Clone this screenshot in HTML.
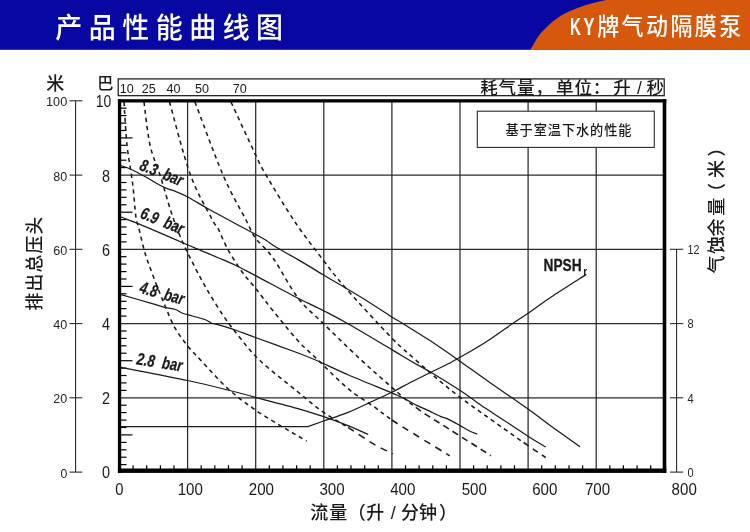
<!DOCTYPE html>
<html lang="zh-CN">
<head>
<meta charset="utf-8">
<title>产品性能曲线图</title>
<style>
html,body{margin:0;padding:0;background:#fff;}
body{width:750px;height:532px;overflow:hidden;}
svg{display:block;}
text{font-family:"Liberation Sans","Noto Sans CJK SC",sans-serif;fill:#1a1a1a;}
.cjk{font-family:"Liberation Sans","Noto Sans CJK SC",sans-serif;}
.grid line{stroke:#2a2a2a;stroke-width:1.25;}
.curve path{fill:none;stroke:#1a1a1a;stroke-width:1.25;}
.dash path{fill:none;stroke:#1a1a1a;stroke-width:1.55;stroke-dasharray:4.2 3.8;}
.tick line{stroke:#000;stroke-width:1.2;}
.ax line{stroke:#222;stroke-width:1.05;}
</style>
</head>
<body>
<svg width="750" height="532" viewBox="0 0 750 532" role="img" aria-label="产品性能曲线图">
<rect x="0" y="0" width="750" height="532" fill="#ffffff"/>
<g id="header">
<rect x="0" y="0" width="750" height="49.8" fill="#0707a2"/>
<path d="M530.3,50 L537,38.2 Q540.6,32.8 545.4,28.3 Q550.6,22.8 556.7,18.4 Q562.6,14.4 569.5,11.3 Q576.2,8.2 583.6,5.7 Q591,3.2 599.2,1.4 L606.5,0 L750,0 L750,50 Z" fill="#d6580c"/>
<text transform="translate(55.3,37.7) scale(1,1.07)" font-size="27" font-weight="500" style="fill:#fff" textLength="227.8" lengthAdjust="spacing">产品性能曲线图</text>
<text x="570.1" y="35.1" font-size="23.6" font-weight="bold" style="fill:#fff"><tspan textLength="10.9" lengthAdjust="spacingAndGlyphs">K</tspan><tspan x="583.4" textLength="11" lengthAdjust="spacingAndGlyphs">Y</tspan></text>
<text transform="translate(597.2,35.2) scale(1,1.07)" font-size="22" font-weight="500" style="fill:#fff" textLength="144" lengthAdjust="spacing">牌气动隔膜泵</text>
</g>
<g id="strip">
<rect x="118.2" y="78.9" width="546" height="16.8" fill="#fff" stroke="#111" stroke-width="1.2"/>
<text x="126.7" y="93.2" font-size="12.5" text-anchor="middle" textLength="14" lengthAdjust="spacingAndGlyphs">10</text>
<text x="148.7" y="93.2" font-size="12.5" text-anchor="middle" textLength="14" lengthAdjust="spacingAndGlyphs">25</text>
<text x="173.4" y="93.2" font-size="12.5" text-anchor="middle" textLength="14" lengthAdjust="spacingAndGlyphs">40</text>
<text x="202" y="93.2" font-size="12.5" text-anchor="middle" textLength="14" lengthAdjust="spacingAndGlyphs">50</text>
<text x="239.7" y="93.2" font-size="12.5" text-anchor="middle" textLength="14" lengthAdjust="spacingAndGlyphs">70</text>
<text x="480.2 498.5 517 535.3 556 574.4 592.7 613.3 631.5 636.9 642 646.5" y="94.3" font-size="17.5" font-weight="500">耗气量，单位：升 / 秒</text>
</g>
<g class="grid">
<line x1="187.6" y1="100.8" x2="187.6" y2="472.05"/>
<line x1="255.7" y1="100.8" x2="255.7" y2="472.05"/>
<line x1="323.8" y1="100.8" x2="323.8" y2="472.05"/>
<line x1="391.9" y1="100.8" x2="391.9" y2="472.05"/>
<line x1="460.0" y1="100.8" x2="460.0" y2="472.05"/>
<line x1="528.1" y1="100.8" x2="528.1" y2="472.05"/>
<line x1="596.2" y1="100.8" x2="596.2" y2="472.05"/>
<line x1="119.5" y1="175.1" x2="664.3" y2="175.1"/>
<line x1="119.5" y1="249.3" x2="664.3" y2="249.3"/>
<line x1="119.5" y1="323.6" x2="664.3" y2="323.6"/>
<line x1="119.5" y1="397.8" x2="664.3" y2="397.8"/>
</g>
<g class="tick">
<line x1="120" y1="108.2" x2="126.5" y2="108.2"/>
<line x1="120" y1="115.6" x2="126.5" y2="115.6"/>
<line x1="120" y1="123.1" x2="126.5" y2="123.1"/>
<line x1="120" y1="130.5" x2="126.5" y2="130.5"/>
<line x1="120" y1="137.9" x2="132.5" y2="137.9"/>
<line x1="120" y1="145.3" x2="126.5" y2="145.3"/>
<line x1="120" y1="152.8" x2="126.5" y2="152.8"/>
<line x1="120" y1="160.2" x2="126.5" y2="160.2"/>
<line x1="120" y1="167.6" x2="126.5" y2="167.6"/>
<line x1="120" y1="182.5" x2="126.5" y2="182.5"/>
<line x1="120" y1="189.9" x2="126.5" y2="189.9"/>
<line x1="120" y1="197.3" x2="126.5" y2="197.3"/>
<line x1="120" y1="204.8" x2="126.5" y2="204.8"/>
<line x1="120" y1="212.2" x2="132.5" y2="212.2"/>
<line x1="120" y1="219.6" x2="126.5" y2="219.6"/>
<line x1="120" y1="227.0" x2="126.5" y2="227.0"/>
<line x1="120" y1="234.4" x2="126.5" y2="234.4"/>
<line x1="120" y1="241.9" x2="126.5" y2="241.9"/>
<line x1="120" y1="256.7" x2="126.5" y2="256.7"/>
<line x1="120" y1="264.1" x2="126.5" y2="264.1"/>
<line x1="120" y1="271.6" x2="126.5" y2="271.6"/>
<line x1="120" y1="279.0" x2="126.5" y2="279.0"/>
<line x1="120" y1="286.4" x2="132.5" y2="286.4"/>
<line x1="120" y1="293.8" x2="126.5" y2="293.8"/>
<line x1="120" y1="301.3" x2="126.5" y2="301.3"/>
<line x1="120" y1="308.7" x2="126.5" y2="308.7"/>
<line x1="120" y1="316.1" x2="126.5" y2="316.1"/>
<line x1="120" y1="331.0" x2="126.5" y2="331.0"/>
<line x1="120" y1="338.4" x2="126.5" y2="338.4"/>
<line x1="120" y1="345.8" x2="126.5" y2="345.8"/>
<line x1="120" y1="353.2" x2="126.5" y2="353.2"/>
<line x1="120" y1="360.7" x2="132.5" y2="360.7"/>
<line x1="120" y1="368.1" x2="126.5" y2="368.1"/>
<line x1="120" y1="375.5" x2="126.5" y2="375.5"/>
<line x1="120" y1="382.9" x2="126.5" y2="382.9"/>
<line x1="120" y1="390.4" x2="126.5" y2="390.4"/>
<line x1="120" y1="405.2" x2="126.5" y2="405.2"/>
<line x1="120" y1="412.6" x2="126.5" y2="412.6"/>
<line x1="120" y1="420.1" x2="126.5" y2="420.1"/>
<line x1="120" y1="427.5" x2="126.5" y2="427.5"/>
<line x1="120" y1="434.9" x2="132.5" y2="434.9"/>
<line x1="120" y1="442.4" x2="126.5" y2="442.4"/>
<line x1="120" y1="449.8" x2="126.5" y2="449.8"/>
<line x1="120" y1="457.2" x2="126.5" y2="457.2"/>
<line x1="120" y1="464.6" x2="126.5" y2="464.6"/>
<line x1="133.1" y1="465.2" x2="133.1" y2="469"/>
<line x1="146.7" y1="465.2" x2="146.7" y2="469"/>
<line x1="160.4" y1="465.2" x2="160.4" y2="469"/>
<line x1="174.0" y1="465.2" x2="174.0" y2="469"/>
<line x1="201.2" y1="465.2" x2="201.2" y2="469"/>
<line x1="214.8" y1="465.2" x2="214.8" y2="469"/>
<line x1="228.5" y1="465.2" x2="228.5" y2="469"/>
<line x1="242.1" y1="465.2" x2="242.1" y2="469"/>
<line x1="269.3" y1="465.2" x2="269.3" y2="469"/>
<line x1="282.9" y1="465.2" x2="282.9" y2="469"/>
<line x1="296.6" y1="465.2" x2="296.6" y2="469"/>
<line x1="310.2" y1="465.2" x2="310.2" y2="469"/>
<line x1="337.4" y1="465.2" x2="337.4" y2="469"/>
<line x1="351.0" y1="465.2" x2="351.0" y2="469"/>
<line x1="364.7" y1="465.2" x2="364.7" y2="469"/>
<line x1="378.3" y1="465.2" x2="378.3" y2="469"/>
<line x1="405.5" y1="465.2" x2="405.5" y2="469"/>
<line x1="419.1" y1="465.2" x2="419.1" y2="469"/>
<line x1="432.8" y1="465.2" x2="432.8" y2="469"/>
<line x1="446.4" y1="465.2" x2="446.4" y2="469"/>
<line x1="473.6" y1="465.2" x2="473.6" y2="469"/>
<line x1="487.2" y1="465.2" x2="487.2" y2="469"/>
<line x1="500.9" y1="465.2" x2="500.9" y2="469"/>
<line x1="514.5" y1="465.2" x2="514.5" y2="469"/>
<line x1="541.7" y1="465.2" x2="541.7" y2="469"/>
<line x1="555.3" y1="465.2" x2="555.3" y2="469"/>
<line x1="569.0" y1="465.2" x2="569.0" y2="469"/>
<line x1="582.6" y1="465.2" x2="582.6" y2="469"/>
<line x1="609.8" y1="465.2" x2="609.8" y2="469"/>
<line x1="623.4" y1="465.2" x2="623.4" y2="469"/>
<line x1="637.1" y1="465.2" x2="637.1" y2="469"/>
<line x1="650.7" y1="465.2" x2="650.7" y2="469"/>
</g>
<g class="dash">
<path d="M124.0,102.0 C124.5,109.2 125.6,131.6 127.0,145.0 C128.4,158.4 131.0,170.4 132.5,182.5 C134.0,194.6 134.9,209.9 136.0,217.5 C137.1,225.1 137.3,222.1 138.8,228.0 C140.3,233.9 142.5,244.7 145.0,253.0 C147.5,261.3 150.6,269.2 153.9,278.0 C157.2,286.8 161.5,297.4 165.0,305.7 C168.5,314.0 171.2,321.3 175.0,328.0 C178.8,334.7 183.3,340.5 187.7,346.0 C192.1,351.5 194.8,353.9 201.5,361.0 C208.2,368.1 218.8,380.4 227.8,388.6 C236.8,396.8 245.8,403.3 255.4,410.0 C265.0,416.7 278.4,424.4 285.5,428.7 C292.6,433.0 294.4,433.9 298.0,436.0 C301.6,438.1 305.3,440.2 306.8,441.0"/>
<path d="M144.0,102.0 C145.0,109.2 147.3,132.8 150.0,145.0 C152.7,157.2 156.4,163.8 160.0,175.0 C163.6,186.2 168.0,202.4 171.3,212.5 C174.6,222.6 176.9,228.3 179.8,235.5 C182.8,242.7 184.8,247.2 189.0,255.6 C193.2,264.0 199.1,275.7 204.8,285.7 C210.5,295.7 217.4,306.9 223.3,315.7 C229.2,324.5 234.2,330.8 240.4,338.3 C246.6,345.9 250.8,352.1 260.4,361.0 C270.0,369.9 287.5,383.4 298.0,392.0 C308.5,400.6 315.3,406.5 323.6,412.4 C331.9,418.3 339.8,422.2 348.0,427.4"/>
<path d="M348.0,427.4 C356.2,432.6 365.5,439.3 373.0,443.7 C380.5,448.1 389.7,452.1 393.0,453.8" style="stroke-dasharray:7 5.8"/>
<path d="M169.5,102.0 C173.0,114.2 183.3,155.3 190.5,175.0 C197.7,194.7 207.9,211.2 212.5,220.0 C217.1,228.8 215.2,223.1 217.8,228.0 C220.4,232.9 223.6,241.8 227.8,249.3 C232.0,256.8 238.3,266.6 242.9,273.0 C247.5,279.4 250.4,281.7 255.4,288.0 C260.4,294.3 265.9,301.9 273.0,310.7 C280.1,319.5 290.5,332.6 298.0,340.8 C305.5,349.0 309.7,352.0 318.0,360.0 C326.3,368.0 338.8,380.9 348.0,388.6 C357.2,396.3 365.7,400.8 373.0,406.0 C380.3,411.2 384.7,415.2 391.8,420.0"/>
<path d="M391.8,420.0 C398.9,424.8 406.2,429.0 415.8,435.0 C425.4,441.0 444.1,452.3 449.7,455.8" style="stroke-dasharray:7 5.8"/>
<path d="M195.0,102.0 C199.7,114.2 214.5,155.3 223.0,175.0 C231.5,194.7 240.6,209.5 246.0,220.0 C251.4,230.5 250.9,231.7 255.4,238.0 C259.9,244.3 265.9,248.0 273.0,258.0 C280.1,268.0 289.6,287.0 298.0,298.0 C306.4,309.0 313.2,313.5 323.6,323.8 C334.1,334.1 349.3,349.0 360.7,359.6 C372.1,370.2 382.6,379.3 391.8,387.3 C401.0,395.3 406.4,400.5 415.8,407.4"/>
<path d="M415.8,407.4 C425.2,414.3 436.7,421.2 448.4,428.7 C460.1,436.2 479.0,448.0 486.0,452.5 C493.0,457.0 489.8,455.2 490.5,455.8" style="stroke-dasharray:6.5 4.5"/>
<path d="M231.0,102.0 C234.9,110.4 248.7,140.3 254.5,152.5 C260.3,164.7 259.2,163.4 266.0,175.0 C272.8,186.6 285.4,207.7 295.0,222.0 C304.6,236.3 315.2,249.6 323.6,260.6 C332.0,271.6 334.2,275.1 345.6,288.0 C357.0,300.9 380.1,326.0 391.8,338.0 C403.5,350.0 408.0,353.0 415.8,360.0 C423.6,367.0 431.0,373.6 438.4,379.8 C445.8,386.0 452.3,391.4 460.2,397.4 C468.1,403.4 475.4,408.5 486.0,416.0 C496.6,423.5 513.6,435.6 523.6,442.5"/>
<path d="M523.6,442.5 C533.6,449.4 542.0,455.0 545.7,457.5" style="stroke-dasharray:6 5"/>
</g>
<g class="curve">
<path d="M121.0,165.6 C122.6,166.2 126.9,167.5 130.7,169.2 C134.5,170.9 139.1,173.3 144.0,176.0 C148.9,178.7 156.0,183.2 160.0,185.3 C164.0,187.5 165.3,187.9 168.0,188.9 C170.7,189.9 172.7,190.2 176.0,191.6 C179.3,192.9 182.6,194.3 187.7,197.0 C192.8,199.7 201.3,204.9 206.7,208.0 C212.1,211.1 211.9,210.9 220.0,215.3 C228.1,219.7 247.7,230.1 255.4,234.3 C263.1,238.5 262.5,238.1 266.0,240.3 C269.5,242.5 271.0,244.1 276.3,247.3 C281.6,250.5 290.1,255.0 298.0,259.6 C305.9,264.2 313.2,268.8 323.6,275.0 C334.1,281.2 349.3,290.0 360.7,297.0 C372.1,304.0 384.7,312.5 391.8,317.0 C398.9,321.5 397.2,320.0 403.3,323.8 C409.4,327.6 419.6,333.8 428.4,339.6 C437.2,345.4 446.4,351.7 456.0,358.4 C465.6,365.1 476.6,373.2 486.0,379.8 C495.4,386.4 505.3,393.1 512.3,398.0 C519.3,402.9 521.6,404.3 528.1,409.0 C534.6,413.7 542.6,419.9 551.2,426.2 C559.9,432.5 575.2,443.3 580.0,446.7"/>
<path d="M121.0,217.0 C125.0,218.6 136.8,223.0 144.7,226.3 C152.6,229.6 161.6,233.5 168.7,236.6 C175.8,239.7 182.0,242.5 187.3,244.8 C192.6,247.1 195.6,248.2 200.7,250.3 C205.8,252.5 212.3,255.2 218.0,257.7 C223.7,260.1 228.8,262.0 235.0,265.0 C241.2,268.0 244.9,270.1 255.4,275.6 C265.9,281.1 286.6,292.4 298.0,298.2 C309.4,304.0 315.3,306.4 323.6,310.7 C331.9,315.0 336.6,317.3 348.0,323.8 C359.4,330.3 381.3,343.4 391.8,349.6 C402.3,355.8 404.3,357.2 410.8,361.0 C417.3,364.8 422.7,367.4 430.9,372.3 C439.1,377.2 451.0,384.6 460.2,390.6 C469.4,396.7 478.8,403.7 486.0,408.6 C493.2,413.5 496.5,415.4 503.5,420.0 C510.5,424.6 521.1,431.7 528.1,436.2 C535.1,440.7 542.8,445.2 545.7,447.0"/>
<path d="M121.0,294.6 C126.0,296.1 144.0,301.2 151.3,303.3 C158.6,305.4 160.7,306.3 164.7,307.3 C168.7,308.3 172.4,308.6 175.3,309.5 C178.2,310.4 180.0,312.1 182.0,313.0 C184.0,313.9 183.5,313.6 187.3,314.7 C191.1,315.8 200.7,318.1 204.7,319.5 C208.7,320.9 209.1,322.1 211.3,323.0 C213.5,323.9 214.0,323.5 218.0,324.7 C222.0,325.9 229.1,327.9 235.3,330.0 C241.5,332.1 245.0,333.7 255.4,337.5 C265.9,341.3 287.8,349.2 298.0,353.0 C308.2,356.8 308.5,356.9 316.8,360.5 C325.1,364.1 335.5,369.4 348.0,374.8 C360.5,380.2 382.5,388.9 391.8,392.8 C401.1,396.7 399.8,396.3 404.0,398.4 C408.2,400.5 412.8,403.4 416.8,405.4 C420.8,407.4 424.0,408.5 428.0,410.4 C432.0,412.3 437.6,415.2 440.8,416.6 C444.0,418.0 444.0,417.1 447.2,418.6 C450.4,420.1 456.3,423.5 460.0,425.6 C463.7,427.7 466.7,429.6 469.6,431.0 C472.5,432.4 475.9,433.5 477.2,434.0"/>
<path d="M121.0,367.3 C132.1,369.5 169.9,376.7 187.7,380.5 C205.5,384.3 216.5,387.2 227.8,390.0 C239.1,392.8 243.7,394.2 255.4,397.3 C267.1,400.4 286.6,405.4 298.0,408.6 C309.4,411.8 315.3,413.9 323.6,416.7 C331.9,419.5 340.6,422.7 348.0,425.7 C355.4,428.7 364.8,433.0 368.2,434.5"/>
<path d="M121,426.7 L306,426.7 L308.0,426.7 C310.6,425.8 316.9,423.4 323.6,421.0 C330.3,418.6 339.8,415.7 348.0,412.4 C356.2,409.1 365.7,404.4 373.0,401.0 C380.3,397.6 385.5,395.4 391.8,392.3 C398.1,389.2 404.3,385.6 410.8,382.3 C417.3,379.0 423.8,375.9 430.9,372.3 C438.0,368.8 444.2,366.1 453.4,361.0 C462.6,355.9 476.2,348.2 486.0,342.0 C495.8,335.8 505.3,328.6 512.3,323.8 C519.3,319.0 521.6,317.7 528.1,313.2 C534.6,308.7 541.5,303.5 551.2,297.0 C560.9,290.5 580.4,278.2 586.3,274.4"/>
</g>
<g id="frame" fill="#000">
<rect x="117.9" y="99.2" width="3.3" height="373.7"/>
<rect x="117.9" y="99.2" width="548.4" height="3.3"/>
<rect x="662.7" y="99.2" width="3.6" height="373.7"/>
<rect x="117.9" y="468.5" width="548.4" height="4.4"/>
</g>
<rect x="477.3" y="111.2" width="177" height="36.2" fill="#fff" stroke="#2a2a2a" stroke-width="1.1"/>
<text x="505.5" y="135" font-size="13.2" font-weight="500" textLength="126" lengthAdjust="spacing">基于室温下水的性能</text>
<text transform="translate(138.4,169.4) rotate(22)" font-size="17" font-weight="bold" font-style="italic" stroke="#1a1a1a" stroke-width="0.25" textLength="45.2" lengthAdjust="spacingAndGlyphs" style="word-spacing:4.73px">8.3 bar</text>
<text transform="translate(139.2,217.6) rotate(22)" font-size="17" font-weight="bold" font-style="italic" stroke="#1a1a1a" stroke-width="0.25" textLength="45.4" lengthAdjust="spacingAndGlyphs" style="word-spacing:4.73px">6.9 bar</text>
<text transform="translate(138.7,292.5) rotate(16)" font-size="17" font-weight="bold" font-style="italic" stroke="#1a1a1a" stroke-width="0.25" textLength="45.3" lengthAdjust="spacingAndGlyphs" style="word-spacing:4.73px">4.8 bar</text>
<text transform="translate(136,364.3) rotate(9)" font-size="17" font-weight="bold" font-style="italic" stroke="#1a1a1a" stroke-width="0.25" textLength="46" lengthAdjust="spacingAndGlyphs" style="word-spacing:4.73px">2.8 bar</text>
<text x="543.6" y="271" font-size="17.2" font-weight="bold" stroke="#1a1a1a" stroke-width="0.3" textLength="38" lengthAdjust="spacingAndGlyphs">NPSH</text>
<text x="583.2" y="274.6" font-size="10.5" font-weight="bold" textLength="4" lengthAdjust="spacingAndGlyphs">r</text>
<g class="ax">
<line x1="75.6" y1="100.8" x2="75.6" y2="472.1"/>
<line x1="69.5" y1="100.8" x2="82.3" y2="100.8"/>
<line x1="69.5" y1="175.1" x2="82.3" y2="175.1"/>
<line x1="69.5" y1="249.3" x2="82.3" y2="249.3"/>
<line x1="69.5" y1="323.6" x2="82.3" y2="323.6"/>
<line x1="69.5" y1="397.8" x2="82.3" y2="397.8"/>
<line x1="69.5" y1="472.1" x2="82.3" y2="472.1"/>
<line x1="676.6" y1="249.3" x2="676.6" y2="472.1"/>
<line x1="670" y1="249.3" x2="683.2" y2="249.3"/>
<line x1="670" y1="323.6" x2="683.2" y2="323.6"/>
<line x1="670" y1="397.8" x2="683.2" y2="397.8"/>
<line x1="670" y1="472.1" x2="683.2" y2="472.1"/>
</g>
<text x="67.3" y="106.4" font-size="13.2" text-anchor="end" textLength="21.3" lengthAdjust="spacingAndGlyphs" style="fill:#262626">100</text>
<text x="111.2" y="107.2" font-size="16" text-anchor="end" textLength="15.5" lengthAdjust="spacingAndGlyphs">10</text>
<text x="67.3" y="180.7" font-size="13.2" text-anchor="end" textLength="14" lengthAdjust="spacingAndGlyphs" style="fill:#262626">80</text>
<text x="110" y="181.5" font-size="16" text-anchor="end" textLength="8" lengthAdjust="spacingAndGlyphs">8</text>
<text x="67.3" y="254.9" font-size="13.2" text-anchor="end" textLength="14" lengthAdjust="spacingAndGlyphs" style="fill:#262626">60</text>
<text x="110" y="255.7" font-size="16" text-anchor="end" textLength="8" lengthAdjust="spacingAndGlyphs">6</text>
<text x="67.3" y="329.2" font-size="13.2" text-anchor="end" textLength="14" lengthAdjust="spacingAndGlyphs" style="fill:#262626">40</text>
<text x="110" y="329.9" font-size="16" text-anchor="end" textLength="8" lengthAdjust="spacingAndGlyphs">4</text>
<text x="67.3" y="403.4" font-size="13.2" text-anchor="end" textLength="14" lengthAdjust="spacingAndGlyphs" style="fill:#262626">20</text>
<text x="110" y="404.2" font-size="16" text-anchor="end" textLength="8" lengthAdjust="spacingAndGlyphs">2</text>
<text x="67.3" y="477.7" font-size="13.2" text-anchor="end" textLength="6.8" lengthAdjust="spacingAndGlyphs" style="fill:#262626">0</text>
<text x="110" y="478.4" font-size="16" text-anchor="end" textLength="8" lengthAdjust="spacingAndGlyphs">0</text>
<text x="687.6" y="254.0" font-size="12" textLength="11.9" lengthAdjust="spacingAndGlyphs" style="fill:#262626">12</text>
<text x="687.6" y="328.2" font-size="12" textLength="6.2" lengthAdjust="spacingAndGlyphs" style="fill:#262626">8</text>
<text x="687.6" y="402.5" font-size="12" textLength="6.2" lengthAdjust="spacingAndGlyphs" style="fill:#262626">4</text>
<text x="687.6" y="476.8" font-size="12" textLength="6.2" lengthAdjust="spacingAndGlyphs" style="fill:#262626">0</text>
<text x="55.3" y="90.3" font-size="18" font-weight="500" text-anchor="middle">米</text>
<text x="105.4" y="88.7" font-size="16.2" font-weight="500" text-anchor="middle">巴</text>
<text transform="translate(41.3,310.6) rotate(-90)" font-size="17.8" font-weight="500" textLength="94" lengthAdjust="spacing">排出总压头</text>
<text transform="translate(722.5,273.5) rotate(-90)" x="0 19.5 37 57.7 72.6 95.5 116.9" y="0" font-size="18" font-weight="500">气蚀余量（米）</text>
<text x="119.3" y="494.6" font-size="16.2" text-anchor="middle" textLength="8.2" lengthAdjust="spacingAndGlyphs">0</text>
<text x="190.3" y="494.6" font-size="16.2" text-anchor="middle" textLength="25.2" lengthAdjust="spacingAndGlyphs">100</text>
<text x="261.4" y="494.6" font-size="16.2" text-anchor="middle" textLength="25.2" lengthAdjust="spacingAndGlyphs">200</text>
<text x="332" y="494.6" font-size="16.2" text-anchor="middle" textLength="25.2" lengthAdjust="spacingAndGlyphs">300</text>
<text x="402.8" y="494.6" font-size="16.2" text-anchor="middle" textLength="25.2" lengthAdjust="spacingAndGlyphs">400</text>
<text x="474.3" y="494.6" font-size="16.2" text-anchor="middle" textLength="25.2" lengthAdjust="spacingAndGlyphs">500</text>
<text x="544.8" y="494.6" font-size="16.2" text-anchor="middle" textLength="25.2" lengthAdjust="spacingAndGlyphs">600</text>
<text x="597.5" y="494.6" font-size="16.2" text-anchor="middle" textLength="25.2" lengthAdjust="spacingAndGlyphs">700</text>
<text x="684.2" y="494.6" font-size="16.2" text-anchor="middle" textLength="25.2" lengthAdjust="spacingAndGlyphs">800</text>
<text x="310.3 329.3 347.8 366.3 385 390.7 396 401 419 438.9" y="518.7" font-size="18" font-weight="500">流量（升 / 分钟）</text>
</svg>
</body>
</html>
